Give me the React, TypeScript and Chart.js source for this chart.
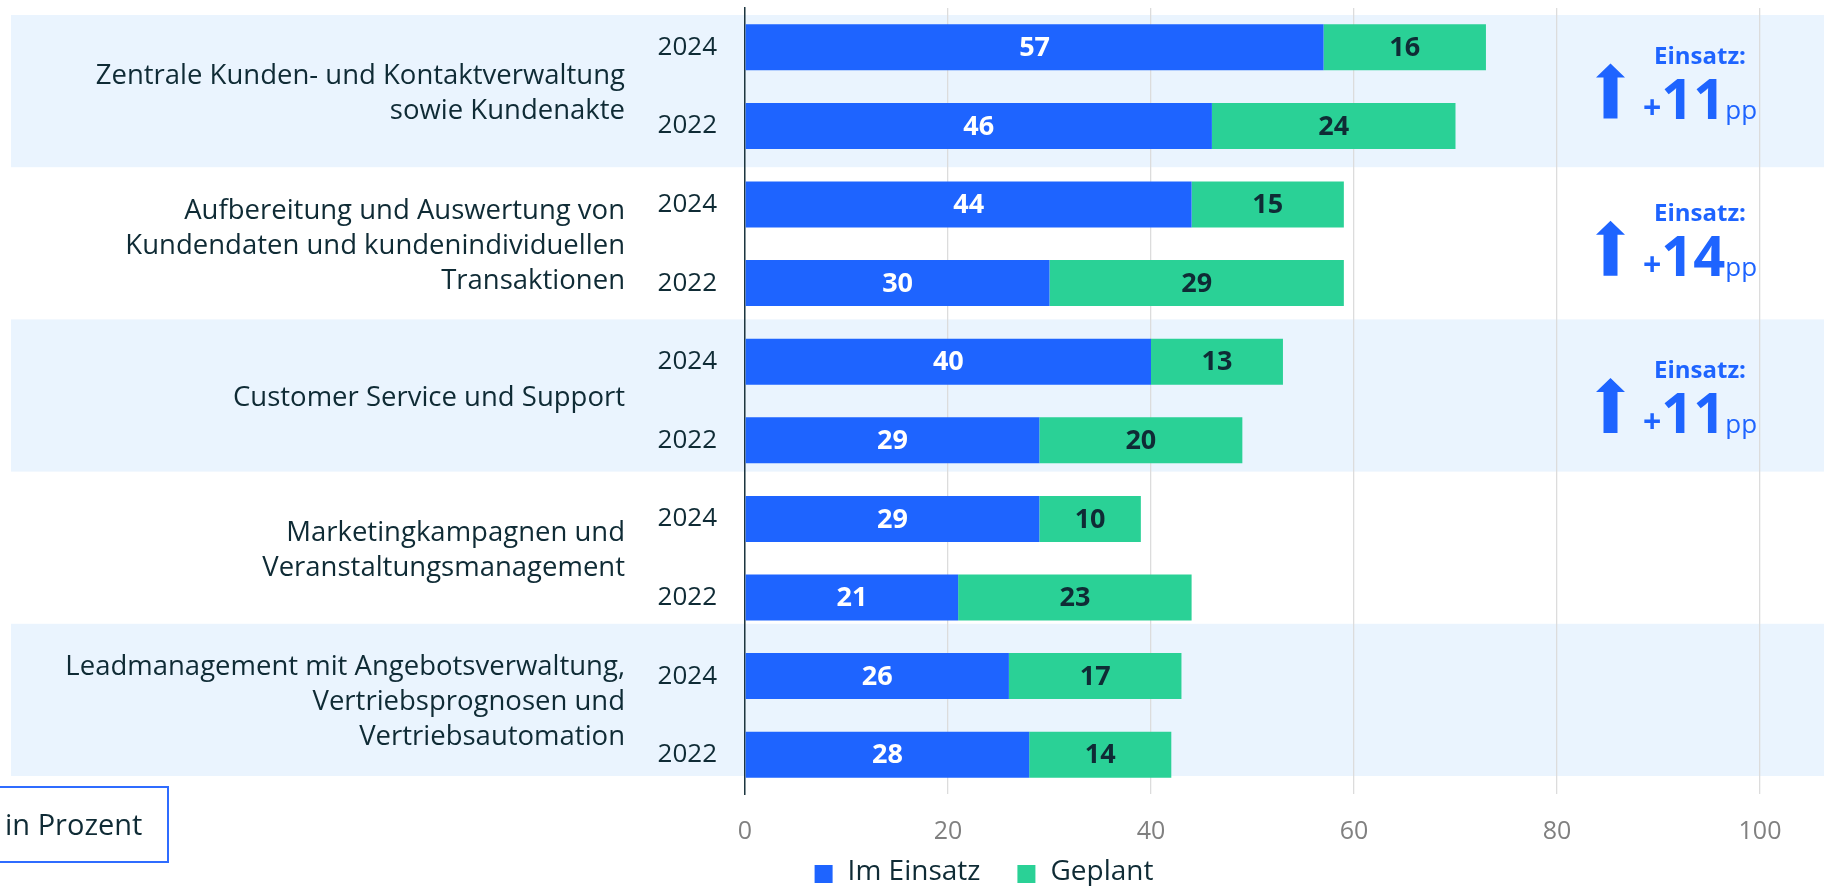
import React, { useEffect, useRef } from "react";
import { Chart, registerables } from "chart.js";

Chart.register(...registerables);

const FONT = '"Open Sans", "Noto Sans", sans-serif';
const DARK = "#0f2b35";
const BLUE = "#1e64ff";
const GREEN = "#2ad196";
const BAND = "#eaf4fe";

const years = ["2024", "2022", "2024", "2022", "2024", "2022", "2024", "2022", "2024", "2022"];
const groupLabels: string[][] = [
  ["Zentrale Kunden- und Kontaktverwaltung", "sowie Kundenakte"],
  ["Aufbereitung und Auswertung von", "Kundendaten und kundenindividuellen", "Transaktionen"],
  ["Customer Service und Support"],
  ["Marketingkampagnen und", "Veranstaltungsmanagement"],
  ["Leadmanagement mit Angebotsverwaltung,", "Vertriebsprognosen und", "Vertriebsautomation"],
];
const imEinsatz = [57, 46, 44, 30, 40, 29, 29, 21, 26, 28];
const geplant = [16, 24, 15, 29, 13, 20, 10, 23, 17, 14];
const einsatzDelta = [11, 14, 11];
const xMin = 0;
const xMax = 100;
const xStep = 20;
const unitLabel = "in Prozent";
const deltaTitle = "Einsatz:";

function bandGeom(chart: any) {
  const { chartArea } = chart;
  const top = chartArea.top + 7;
  const bottom = chartArea.bottom - 18;
  const h = (bottom - top) / groupLabels.length;
  return { top, h };
}

const bandPlugin = {
  id: "bands",
  beforeDraw(chart: any) {
    const { ctx, width } = chart;
    const { top, h } = bandGeom(chart);
    ctx.save();
    ctx.fillStyle = BAND;
    for (let i = 0; i < groupLabels.length; i += 2) {
      ctx.fillRect(11, top + i * h, width - 11, h);
    }
    ctx.restore();
  },
};

const groupLabelPlugin = {
  id: "groupLabels",
  afterDraw(chart: any) {
    const { ctx, chartArea } = chart;
    const { top, h } = bandGeom(chart);
    const x = chartArea.left - 120;
    const lh = 35;
    ctx.save();
    ctx.font = `27.5px ${FONT}`;
    ctx.fillStyle = DARK;
    ctx.textAlign = "right";
    ctx.textBaseline = "middle";
    groupLabels.forEach((lines, i) => {
      const c = top + (i + 0.5) * h + 2.5;
      const start = c - ((lines.length - 1) * lh) / 2;
      lines.forEach((ln, j) => ctx.fillText(ln, x, start + j * lh));
    });
    ctx.restore();
  },
};

const dataLabelPlugin = {
  id: "dataLabels",
  afterDatasetsDraw(chart: any) {
    const { ctx } = chart;
    ctx.save();
    ctx.font = `bold 27px ${FONT}`;
    ctx.textAlign = "center";
    ctx.textBaseline = "middle";
    chart.data.datasets.forEach((ds: any, di: number) => {
      const meta = chart.getDatasetMeta(di);
      ctx.fillStyle = di === 0 ? "#ffffff" : DARK;
      meta.data.forEach((el: any, i: number) => {
        const p = el.getProps(["x", "y", "base"], true);
        ctx.fillText(String(ds.data[i]), (p.x + p.base) / 2, p.y + 1);
      });
    });
    ctx.restore();
  },
};

const deltaPlugin = {
  id: "delta",
  afterDraw(chart: any) {
    const { ctx, chartArea } = chart;
    const ys = chart.scales.y;
    const cx = chartArea.right - 60;
    const ax = chartArea.right - 149.5;
    ctx.save();
    einsatzDelta.forEach((d, i) => {
      const c = (ys.getPixelForValue(2 * i) + ys.getPixelForValue(2 * i + 1)) / 2;
      ctx.fillStyle = BLUE;
      ctx.beginPath();
      ctx.moveTo(ax, c - 23);
      ctx.lineTo(ax + 14.5, c - 9);
      ctx.lineTo(ax + 7, c - 9);
      ctx.lineTo(ax + 7, c + 32);
      ctx.lineTo(ax - 7, c + 32);
      ctx.lineTo(ax - 7, c - 9);
      ctx.lineTo(ax - 14.5, c - 9);
      ctx.closePath();
      ctx.fill();

      ctx.textBaseline = "alphabetic";
      ctx.textAlign = "center";
      ctx.font = `bold 24px ${FONT}`;
      ctx.fillText(deltaTitle, cx, c - 23);

      const fPlus = `bold 32px ${FONT}`;
      const fNum = `bold 56px ${FONT}`;
      const fPp = `26px ${FONT}`;
      const sNum = String(d);
      ctx.font = fPlus;
      const wPlus = ctx.measureText("+").width;
      ctx.font = fNum;
      const wNum = ctx.measureText(sNum).width;
      ctx.font = fPp;
      const wPp = ctx.measureText("pp").width;
      let x = cx - (wPlus + wNum + wPp) / 2;
      const bl = c + 32;
      ctx.textAlign = "left";
      ctx.font = fPlus;
      ctx.fillText("+", x, bl);
      x += wPlus;
      ctx.font = fNum;
      ctx.fillText(sNum, x, bl);
      x += wNum;
      ctx.font = fPp;
      ctx.fillText("pp", x, bl);
    });
    ctx.restore();
  },
};

const unitPlugin = {
  id: "unit",
  afterDraw(chart: any) {
    const { ctx } = chart;
    ctx.save();
    ctx.strokeStyle = "#2f6cff";
    ctx.lineWidth = 2;
    ctx.strokeRect(-2, 787, 170, 75);
    ctx.fillStyle = DARK;
    ctx.font = `29px ${FONT}`;
    ctx.textAlign = "left";
    ctx.textBaseline = "alphabetic";
    ctx.fillText(unitLabel, 5, 835);
    ctx.restore();
  },
};

const legendPlugin = {
  id: "customLegend",
  afterDraw(chart: any) {
    const { ctx } = chart;
    const font = `28px ${FONT}`;
    const box = 18;
    const gapText = 15;
    const gapItem = 37;
    const items = chart.data.datasets.map((ds: any) => ({ text: ds.label, color: ds.backgroundColor }));
    ctx.save();
    ctx.font = font;
    const widths = items.map((it: any) => box + gapText + ctx.measureText(it.text).width);
    const total = widths.reduce((a: number, b: number) => a + b, 0) + gapItem * (items.length - 1);
    let x = 984 - total / 2;
    const cy = 874;
    items.forEach((it: any, i: number) => {
      ctx.fillStyle = it.color;
      ctx.fillRect(x, cy - 9, box, box);
      ctx.fillStyle = DARK;
      ctx.textAlign = "left";
      ctx.textBaseline = "middle";
      ctx.fillText(it.text, x + box + gapText, cy - 2);
      x += widths[i] + gapItem;
    });
    ctx.restore();
  },
};

export default function App() {
  const ref = useRef<HTMLCanvasElement | null>(null);
  useEffect(() => {
    if (!ref.current) return;
    const chart = new Chart(ref.current, {
      type: "bar",
      data: {
        labels: years,
        datasets: [
          {
            label: "Im Einsatz",
            data: imEinsatz,
            backgroundColor: BLUE,
            barPercentage: 0.585,
            categoryPercentage: 1,
          },
          {
            label: "Geplant",
            data: geplant,
            backgroundColor: GREEN,
            barPercentage: 0.585,
            categoryPercentage: 1,
          },
        ],
      },
      options: {
        indexAxis: "y",
        responsive: false,
        animation: false,
        layout: { padding: { left: 206, right: 64, top: 8, bottom: 43 } },
        scales: {
          x: {
            stacked: true,
            min: xMin,
            max: xMax,
            ticks: {
              stepSize: xStep,
              font: { family: FONT, size: 25 },
              color: "#808080",
              padding: 23,
            },
            grid: { color: "#dcdcdc", lineWidth: 1.3, drawTicks: false },
            border: { display: false },
            afterFit: (s: any) => {
              s.height = 60;
              s.paddingLeft = 0;
              s.paddingRight = 0;
            },
          },
          y: {
            stacked: true,
            ticks: { font: { family: FONT, size: 26 }, color: DARK, padding: 28 },
            grid: { display: false, drawTicks: false },
            border: { display: true, color: "#1d3640", width: 1.5 },
            afterFit: (s: any) => {
              s.width = 539;
              s.paddingTop = 0;
              s.paddingBottom = 0;
            },
          },
        },
        plugins: {
          legend: { display: false },
          tooltip: { enabled: false },
        },
      },
      plugins: [bandPlugin, groupLabelPlugin, dataLabelPlugin, deltaPlugin, unitPlugin, legendPlugin],
    } as any);
    return () => chart.destroy();
  }, []);
  return (
    <div style={{ position: "fixed", left: 0, top: 0, width: 1824, height: 897, overflow: "hidden", background: "#fff" }}>
      <canvas ref={ref} width={1824} height={897} style={{ display: "block" }} />
    </div>
  );
}
